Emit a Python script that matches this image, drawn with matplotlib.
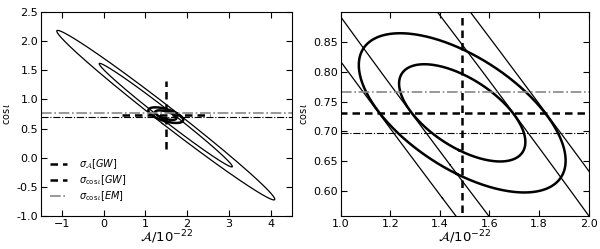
import numpy as np
import matplotlib
matplotlib.use('Agg')
import matplotlib.pyplot as plt

# fiducial values
A0 = 1.49
cos0 = 0.731

# GW-only errors and correlation
sig_A_gw = 1.05
sig_cos_gw = 0.585
rho_gw = -0.9916

# combined (thick) ellipse
sig_A_comb = 0.168
sig_cos_comb = 0.054
rho_comb = -0.6

# EM prior on cos(iota)
sig_cos_em = 0.0345

# contour scalings: sqrt(delta chi^2) for 68% and 95%
levels = [1.517, 2.484]


def ellipse(sa, sc, rho, k, n=400):
    cov = np.array([[sa**2, rho*sa*sc], [rho*sa*sc, sc**2]])
    w, v = np.linalg.eigh(cov)
    t = np.linspace(0, 2*np.pi, n)
    circ = np.vstack([np.cos(t), np.sin(t)]) * (k*np.sqrt(w))[:, None]
    pts = v @ circ
    return A0 + pts[0], cos0 + pts[1]


def draw(ax):
    for k in levels:
        x, y = ellipse(sig_A_gw, sig_cos_gw, rho_gw, k)
        ax.plot(x, y, color='k', lw=0.9)
        x, y = ellipse(sig_A_comb, sig_cos_comb, rho_comb, k)
        ax.plot(x, y, color='k', lw=1.8)
    ax.plot([A0 - sig_A_gw, A0 + sig_A_gw], [cos0, cos0], color='k', lw=1.8,
            ls=(0, (3, 2)), label=r'$\sigma_{\mathcal{A}}[GW]$')
    ax.plot([A0, A0], [cos0 - sig_cos_gw, cos0 + sig_cos_gw], color='k', lw=1.8,
            ls=(0, (3, 2)), label=r'$\sigma_{\cos\iota}[GW]$')
    ax.axhline(cos0 + sig_cos_em, color='#888888', lw=1.2, ls='-.',
               label=r'$\sigma_{\cos\iota}[EM]$')
    ax.axhline(cos0 - sig_cos_em, color='k', lw=0.8, ls='-.')
    ax.tick_params(direction='in', top=True, right=True, labelsize=8, length=4,
                   pad=2)
    ax.set_xlabel(r'$\mathcal{A}/10^{-22}$', fontsize=9.5)
    ax.xaxis.set_label_coords(0.5, -0.06)
    ax.set_ylabel(r'$\cos\iota$', fontsize=7, labelpad=3)


fig = plt.figure(figsize=(6, 2.49), dpi=100)
ax1 = fig.add_axes([0.068, 0.132, 0.418, 0.82])
ax2 = fig.add_axes([0.568, 0.132, 0.413, 0.82])

draw(ax1)
ax1.set_xlim(-1.5, 4.5)
ax1.set_ylim(-1.0, 2.5)
ax1.set_xticks([-1, 0, 1, 2, 3, 4])
ax1.set_yticks(np.arange(-1.0, 2.51, 0.5))
ax1.yaxis.set_major_formatter(matplotlib.ticker.FormatStrFormatter('%.1f'))
ax1.legend(loc='lower left', bbox_to_anchor=(0.0, 0.02), frameon=False,
           fontsize=7, handlelength=1.8, handletextpad=1.2,
           borderaxespad=0.5, labelspacing=0.25)

draw(ax2)
ax2.set_xlim(1.0, 2.0)
ax2.set_ylim(0.557, 0.901)
ax2.set_xticks(np.arange(1.0, 2.01, 0.2))
ax2.set_yticks(np.arange(0.60, 0.851, 0.05))
ax2.xaxis.set_major_formatter(matplotlib.ticker.FormatStrFormatter('%.1f'))
ax2.yaxis.set_major_formatter(matplotlib.ticker.FormatStrFormatter('%.2f'))

fig.savefig('out.png', dpi=100)
